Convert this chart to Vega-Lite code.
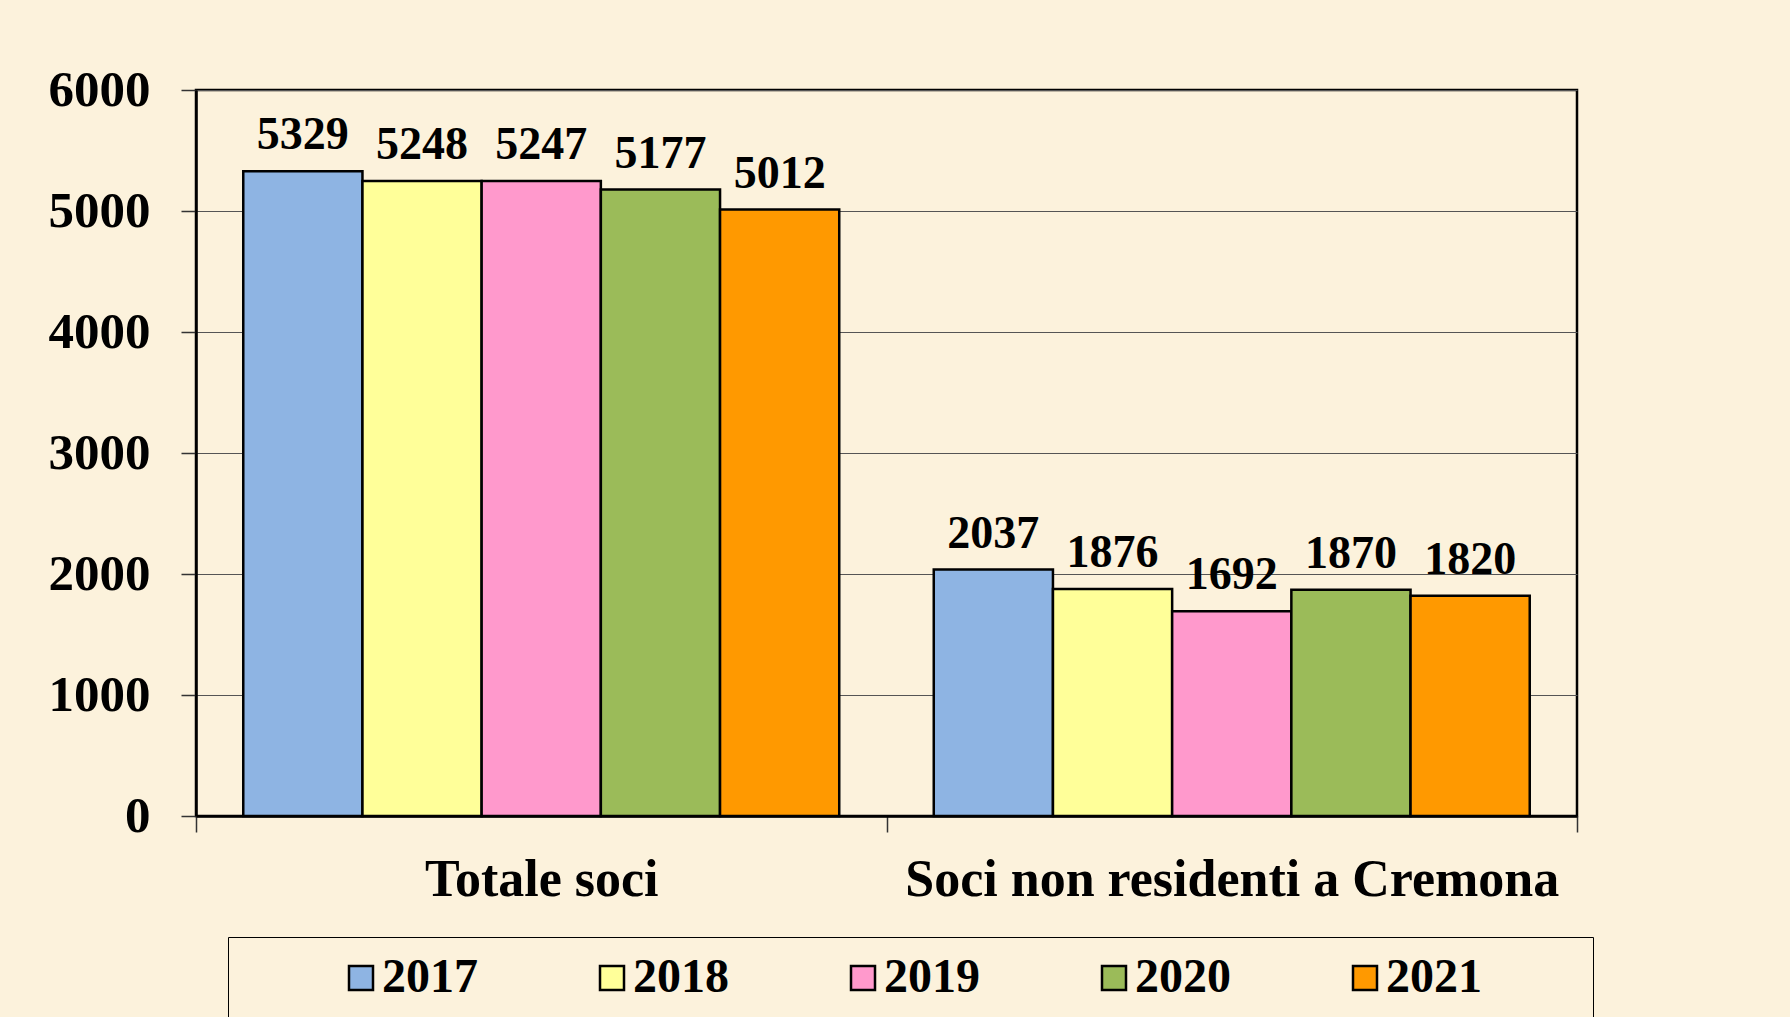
{
  "$schema": "https://vega.github.io/schema/vega-lite/v6.json",
  "width": 1381,
  "height": 726,
  "autosize": {"type": "none"},
  "padding": {"left": 196, "top": 90, "right": 213, "bottom": 201},
  "background": "#FCF2DC",
  "config": {
    "view": {"stroke": "#000000", "strokeWidth": 2.5},
    "font": "Liberation Serif"
  },
  "data": {
    "values": [
      {"categoria": "Totale soci", "anno": "2017", "valore": 5329},
      {"categoria": "Totale soci", "anno": "2018", "valore": 5248},
      {"categoria": "Totale soci", "anno": "2019", "valore": 5247},
      {"categoria": "Totale soci", "anno": "2020", "valore": 5177},
      {"categoria": "Totale soci", "anno": "2021", "valore": 5012},
      {"categoria": "Soci non residenti a Cremona", "anno": "2017", "valore": 2037},
      {"categoria": "Soci non residenti a Cremona", "anno": "2018", "valore": 1876},
      {"categoria": "Soci non residenti a Cremona", "anno": "2019", "valore": 1692},
      {"categoria": "Soci non residenti a Cremona", "anno": "2020", "valore": 1870},
      {"categoria": "Soci non residenti a Cremona", "anno": "2021", "valore": 1820}
    ]
  },
  "encoding": {
    "x": {
      "field": "categoria",
      "type": "nominal",
      "sort": ["Totale soci", "Soci non residenti a Cremona"],
      "scale": {"paddingInner": 0, "paddingOuter": 0},
      "axis": {
        "title": null,
        "labelAngle": 0,
        "labelFont": "Liberation Serif",
        "labelFontSize": 52,
        "labelFontWeight": "bold",
        "labelColor": "#000000",
        "labelBaseline": "alphabetic",
        "labelPadding": 63,
        "labelLimit": 1000,
        "tickBand": "extent",
        "tickSize": 16,
        "tickColor": "#333333",
        "tickWidth": 1.5,
        "domainColor": "#000000",
        "domainWidth": 2.5,
        "grid": false
      }
    },
    "xOffset": {
      "field": "anno",
      "type": "nominal",
      "scale": {"paddingInner": 0, "paddingOuter": 0.3965}
    },
    "y": {
      "field": "valore",
      "type": "quantitative",
      "scale": {"domain": [0, 6000], "nice": false},
      "axis": {
        "title": null,
        "values": [0, 1000, 2000, 3000, 4000, 5000, 6000],
        "format": "d",
        "labelFont": "Liberation Serif",
        "labelFontSize": 51,
        "labelFontWeight": "bold",
        "labelColor": "#000000",
        "labelPadding": 31,
        "tickSize": 15,
        "tickColor": "#333333",
        "tickWidth": 1.5,
        "grid": true,
        "gridColor": "#555555",
        "gridWidth": 1.2,
        "domainColor": "#000000",
        "domainWidth": 2.5
      }
    }
  },
  "layer": [
    {
      "mark": {"type": "bar", "stroke": "#000000", "strokeWidth": 2.5},
      "encoding": {
        "color": {
          "field": "anno",
          "type": "nominal",
          "scale": {
            "domain": ["2017", "2018", "2019", "2020", "2021"],
            "range": ["#8EB4E3", "#FFFF99", "#FF99CC", "#9BBB59", "#FF9900"]
          },
          "legend": {
            "orient": "none",
            "legendX": 32,
            "legendY": 847,
            "direction": "horizontal",
            "columns": 5,
            "title": "\u00a0",
            "titleOrient": "left",
            "titleFontSize": 1,
            "titlePadding": 92,
            "padding": 17,
            "strokeColor": "#000000",
            "symbolType": "square",
            "symbolSize": 576,
            "symbolStrokeColor": "#000000",
            "symbolStrokeWidth": 2.5,
            "symbolOpacity": 1,
            "labelFont": "Liberation Serif",
            "labelFontSize": 48,
            "labelFontWeight": "bold",
            "labelColor": "#000000",
            "labelOffset": -3,
            "labelLimit": 400,
            "columnPadding": 110,
            "labelExpr": "datum.value == '2021' ? datum.label + '\u00a0\u00a0\u00a0\u00a0\u00a0\u00a0\u00a0\u2009\u200b' : datum.label"
          }
        }
      }
    },
    {
      "mark": {
        "type": "text",
        "dy": -22,
        "baseline": "alphabetic",
        "font": "Liberation Serif",
        "fontSize": 46,
        "fontWeight": "bold",
        "color": "#000000"
      },
      "encoding": {
        "text": {"field": "valore", "type": "quantitative", "format": "d"}
      }
    }
  ]
}
